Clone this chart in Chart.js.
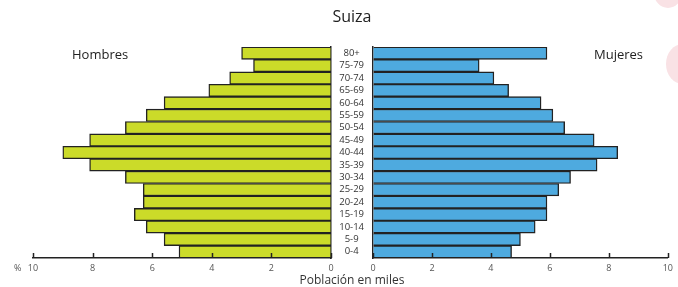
<!DOCTYPE html>
<html lang="es">
<head>
<meta charset="utf-8">
<script src="https://cdn.jsdelivr.net/npm/chart.js@4/dist/chart.umd.min.js"></script>
<style>
  html, body { margin: 0; padding: 0; background: #fff; }
  body { width: 678px; height: 287px; position: relative; overflow: hidden; font-family: "Open Sans", sans-serif; color: #222; }
  .txt { position: absolute; white-space: nowrap; }
  #titulo { left: 0; width: 704px; top: 5px; text-align: center; font-size: 16px; }
  #hombres { left: 72px; top: 45px; font-size: 13px; }
  #mujeres { left: 594px; top: 45px; font-size: 13px; }
  #eje { left: 0; width: 704px; top: 271px; text-align: center; font-size: 12px; color: #333; }
  #pct { left: 14px; top: 261px; font-size: 9px; color: #555; }
  .deco { position: absolute; border-radius: 50%; background: #f9e2e5; }
  #izq { position: absolute; left: 0; top: 0; }
  #der { position: absolute; left: 331px; top: 0; }
</style>
</head>
<body>
<div class="deco" style="left:666px; top:44px; width:34px; height:40px;"></div>
<div class="deco" style="left:654px; top:-22px; width:28px; height:30px;"></div>
<canvas id="izq" width="340" height="287"></canvas>
<canvas id="der" width="347" height="287"></canvas>
<div class="txt" id="titulo">Suiza</div>
<div class="txt" id="hombres">Hombres</div>
<div class="txt" id="mujeres">Mujeres</div>
<div class="txt" id="pct">%</div>
<div class="txt" id="eje">Población en miles</div>
<script>
// grupos de edad (de arriba a abajo)
const edades = ['80+', '75-79', '70-74', '65-69', '60-64', '55-59', '50-54', '45-49', '40-44',
                '35-39', '30-34', '25-29', '20-24', '15-19', '10-14', '5-9', '0-4'];
const hombres = [3.0, 2.6, 3.4, 4.1, 5.6, 6.2, 6.9, 8.1, 9.0, 8.1, 6.9, 6.3, 6.3, 6.6, 6.2, 5.6, 5.1];
const mujeres = [5.9, 3.6, 4.1, 4.6, 5.7, 6.1, 6.5, 7.5, 8.3, 7.6, 6.7, 6.3, 5.9, 5.9, 5.5, 5.0, 4.7];
const ticksX = [0, 2, 4, 6, 8, 10];

// marcas del eje hacia dentro
const marcasDentro = {
  id: 'marcasDentro',
  afterDraw(chart) {
    const c = chart.ctx;
    const sx = chart.scales.x;
    const base = chart.chartArea.bottom;
    c.save();
    c.strokeStyle = '#222';
    c.lineWidth = 1.5;
    ticksX.forEach(v => {
      const px = Math.round(sx.getPixelForValue(v)) + 0.5;
      c.beginPath();
      c.moveTo(px, base);
      c.lineTo(px, base - 5);
      c.stroke();
    });
    c.restore();
  }
};

function escalaX(invertida) {
  return {
    type: 'linear',
    min: 0, max: 10,
    reverse: invertida,
    afterBuildTicks: s => { s.ticks = ticksX.map(v => ({ value: v })); },
    afterFit: s => { s.height = 29; },
    grid: { drawOnChartArea: false, drawTicks: false },
    border: { color: '#222', width: 1.5 },
    ticks: { padding: 5, color: '#555', font: { family: 'Open Sans', size: 9 } }
  };
}

const dataset = (valores, color) => ({
  data: valores,
  backgroundColor: color,
  borderColor: '#222',
  borderWidth: 1.4,
  barPercentage: 1,
  categoryPercentage: 1
});

new Chart(document.getElementById('izq'), {
  type: 'bar',
  data: { labels: edades, datasets: [dataset(hombres, '#cbdb29')] },
  options: {
    indexAxis: 'y',
    responsive: false,
    animation: false,
    layout: { padding: { top: 47, left: 33, right: 0, bottom: 0 } },
    plugins: { legend: { display: false }, tooltip: { enabled: false } },
    scales: {
      x: escalaX(true),
      y: {
        position: 'right',
        afterFit: s => { s.width = 9; },
        grid: { display: false },
        border: { color: '#222', width: 1.5 },
        ticks: { display: false }
      }
    }
  },
  plugins: [marcasDentro]
});

new Chart(document.getElementById('der'), {
  type: 'bar',
  data: { labels: edades, datasets: [dataset(mujeres, '#4eaadf')] },
  options: {
    indexAxis: 'y',
    responsive: false,
    animation: false,
    layout: { padding: { top: 47, left: 0, right: 8, bottom: 0 } },
    plugins: { legend: { display: false }, tooltip: { enabled: false } },
    scales: {
      x: escalaX(false),
      y: {
        position: 'left',
        afterFit: s => { s.width = 42; },
        grid: { display: false, drawTicks: false },
        border: { color: '#222', width: 1.5 },
        ticks: {
          autoSkip: false,
          crossAlign: 'center',
          padding: 9,
          color: '#333',
          font: { family: 'Open Sans', size: 9.5 }
        }
      }
    }
  },
  plugins: [marcasDentro]
});
</script>
</body>
</html>
